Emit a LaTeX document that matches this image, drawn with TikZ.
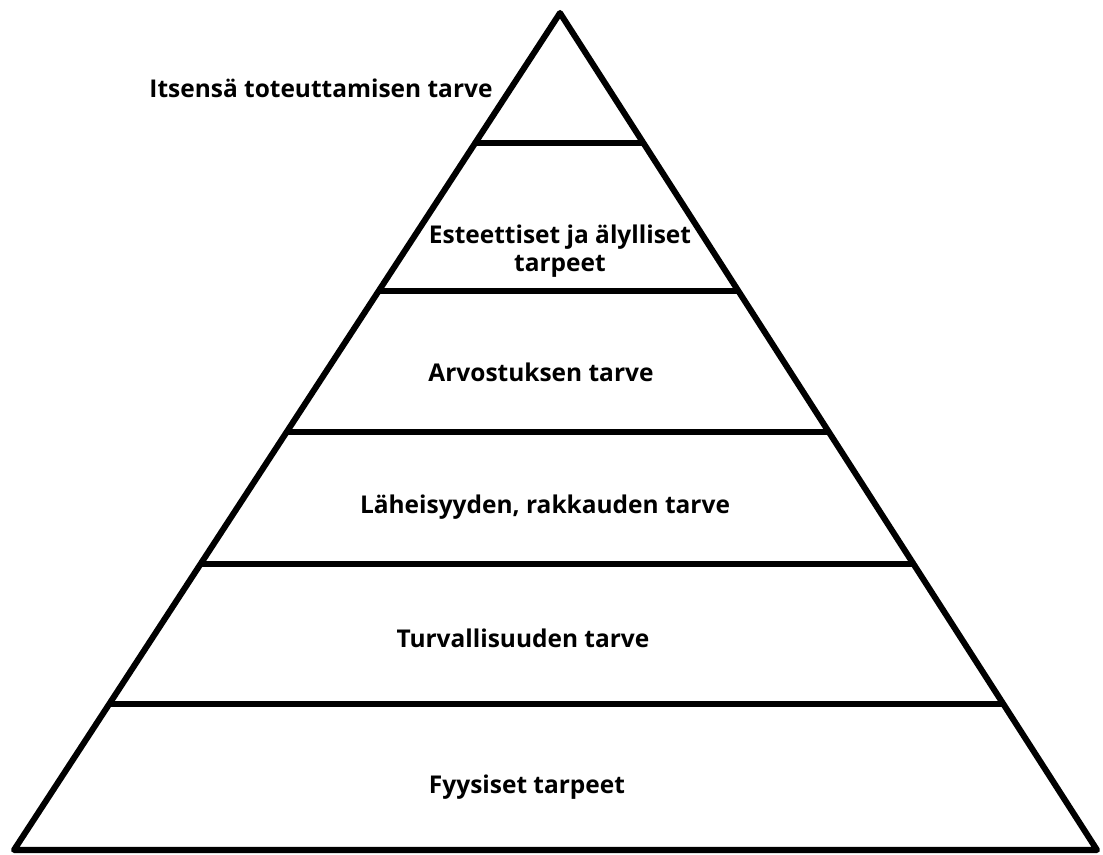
\documentclass[tikz,border=0pt]{standalone}
\usepackage{fontspec}
\setmainfont{Open Sans}
\usetikzlibrary{calc}

\begin{document}
\begin{tikzpicture}[x=0.025cm,y=-0.025cm,line width=4.3pt,line join=round,
	lbl/.style={font=\bfseries\fontsize{17.4}{19.5}\selectfont,align=center,inner sep=0pt}]
		\useasboundingbox (0,0) rectangle (1103,854);
		\coordinate (apex) at (560,13);
		\coordinate (bl) at (14,850);
		\coordinate (br) at (1097,850);
		\draw (bl)--(apex)--(br)--cycle;
		\foreach \t in {0.1553,0.3321,0.5006,0.6583,0.8256}
			{
			\draw ($(apex)!\t!(bl)$)--($(apex)!\t!(br)$);
			}
		\node[lbl] (selfreal) at (321,88) {Itsensä toteuttamisen tarve};
		\node[lbl] (aesth) at (560,251) {Esteettiset ja älylliset\\tarpeet};
		\node[lbl] (esteem) at (541,372) {Arvostuksen tarve};
		\node[lbl] (love) at (545,507) {Läheisyyden, rakkauden tarve};
		\node[lbl] (safety) at (523,638) {Turvallisuuden tarve};
		\node[lbl] (phys) at (527,787) {Fyysiset tarpeet};
	\end{tikzpicture}
\end{document}
